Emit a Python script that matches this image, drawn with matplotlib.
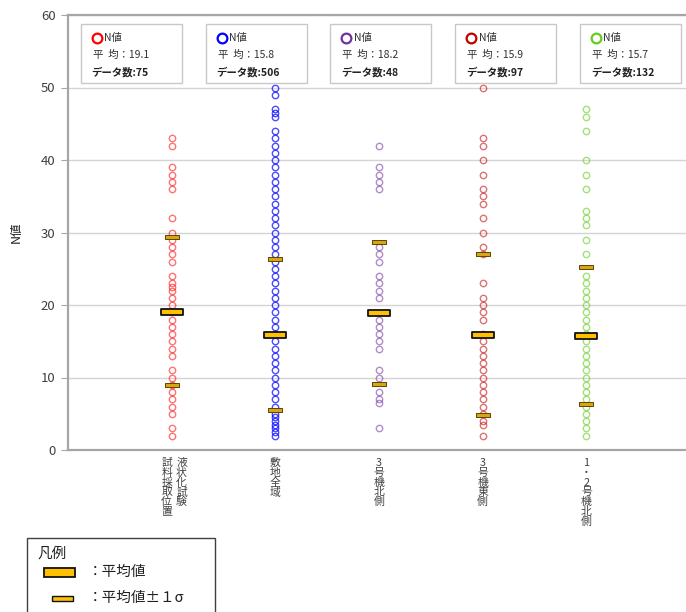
import matplotlib
matplotlib.use("Agg")
import matplotlib.pyplot as plt
from matplotlib.path import Path
from matplotlib.patches import Rectangle

plt.rcParams['font.family'] = ['Noto Sans CJK JP', 'DejaVu Sans']

# categories (vertical labels, first one has two columns)
cat_cols = [["液状化試験", "試料採取位置"], ["敷地全域"], ["3号機北側"], ["3号機東側"], ["1・2号機北側"]]
colors = ['#ff0000', '#0000ff', '#7030a0', '#c00000', '#66cc22']
alphas = [0.55, 0.7, 0.55, 0.55, 0.6]

# N values
n_red = [43, 42, 39, 38, 37, 36, 32, 30, 29, 28, 27, 26, 24, 23, 22.5, 22, 21, 20, 19, 18, 17, 16,
         15, 14, 13, 11, 10, 9, 8, 7, 6, 5, 3, 2]
n_blue = [50, 49, 47, 46.5, 46, 44, 43, 42, 41, 40, 39, 38, 37, 36, 35, 34, 33, 32, 31, 30, 29, 28,
          27, 26, 25, 24, 23, 22, 21, 20, 19, 18, 17, 16, 15, 14, 13, 12, 11, 10, 9, 8, 7, 6, 5,
          4.5, 4, 3.5, 3, 2.5, 2]
n_purple = [42, 39, 38, 37, 36, 28, 27, 26, 24, 23, 22, 21, 18, 17, 16, 15, 14, 11, 10, 8, 7, 6.5, 3]
n_dred = [50, 43, 42, 40, 38, 36, 35, 34, 32, 30, 28, 27, 23, 21, 20, 19, 18, 16, 15, 14, 13, 12,
          11, 10, 9, 8, 7, 6, 5, 4, 3.5, 2]
n_green = [47, 46, 44, 40, 38, 36, 33, 32, 31, 29, 27, 24, 23, 22, 21, 20, 19, 18, 17, 16, 15, 14,
           13, 12, 11, 10, 9, 8, 7, 6, 5, 4, 3, 2]
series = [n_red, n_blue, n_purple, n_dred, n_green]

# mean marker and mean +- 1 sigma markers (as drawn)
avg = [19.1, 15.8, 18.9, 15.9, 15.7]
sig_hi = [29.4, 26.3, 28.7, 27.1, 25.2]
sig_lo = [9.0, 5.5, 9.1, 4.8, 6.3]

# info box texts
avg_text = ['19.1', '15.8', '18.2', '15.9', '15.7']
count_text = ['75', '506', '48', '97', '132']


def rect_marker(ratio):
    h = 1.0 / ratio
    return Path([(-1, -h), (1, -h), (1, h), (-1, h), (-1, -h)],
                [Path.MOVETO, Path.LINETO, Path.LINETO, Path.LINETO, Path.CLOSEPOLY])


fig = plt.figure(figsize=(6.86, 6.12), dpi=100)
ax = fig.add_axes([68 / 686, 1 - 450 / 612, 618 / 686, 435 / 612])
ax.set_xlim(-1, 4.96)
ax.set_ylim(0, 60)

for s in ['left', 'bottom', 'top']:
    ax.spines[s].set_color('#a6a6a6')
    ax.spines[s].set_linewidth(1.6)
ax.spines['right'].set_visible(False)
ax.set_yticks(range(0, 61, 10))
ax.yaxis.grid(True, color='#d4d4d4', linewidth=1.0)
ax.set_axisbelow(True)
ax.tick_params(axis='y', length=5, color='#a6a6a6', labelsize=9.5, labelcolor='#404040', pad=4)
ax.set_xticks([])
ax.set_ylabel('N値', fontsize=9, color='#202020', labelpad=13)

# points
for i, vals in enumerate(series):
    ax.plot([i] * len(vals), vals, 'o', mfc='none', mec=colors[i], ms=4.6, mew=1.0,
            alpha=alphas[i], zorder=3)

mean_mk = rect_marker(3.6)
sig_mk = rect_marker(4.8)
xs = list(range(len(series)))
ax.plot(xs, sig_hi, ls='none', marker=sig_mk, ms=10.5, mfc='#d9a514', mec='#5a4600', mew=0.7, zorder=4)
ax.plot(xs, sig_lo, ls='none', marker=sig_mk, ms=10.5, mfc='#d9a514', mec='#5a4600', mew=0.7, zorder=4)
ax.plot(xs, avg, ls='none', marker=mean_mk, ms=16, mfc='#ffc000', mec='#111111', mew=1.3, zorder=5)

# category labels (stacked vertical)
for i, cols in enumerate(cat_cols):
    if len(cols) == 2:
        offs = [0.095, -0.048]
    else:
        offs = [0.0]
    for txt, off in zip(cols, offs):
        ax.text(i + off, -0.018, '\n'.join(txt), transform=ax.get_xaxis_transform(),
                ha='center', va='top', fontsize=7.8, color='#404040', linespacing=0.98)

# info boxes above each column
W, H = 618.0, 435.0
for i in range(len(series)):
    left = (80.7 - 68 + i * 124.8) / W
    ax.add_patch(Rectangle((left, 1 - 68 / H), 101 / W, 59 / H, transform=ax.transAxes,
                           facecolor='white', edgecolor='#c8c8c8', lw=1.0, zorder=6, clip_on=False))
    ax.plot([left + 16 / W], [1 - 22.5 / H], 'o', transform=ax.transAxes, mfc='none',
            mec=colors[i], ms=7, mew=1.6, zorder=7, clip_on=False)
    ax.text(left + 23.5 / W, 1 - 22.5 / H, 'N値', transform=ax.transAxes, fontsize=7.5,
            color='#303030', va='center', ha='left', zorder=7)
    ax.text(left + 12 / W, 1 - 40 / H, '平  均：' + avg_text[i], transform=ax.transAxes,
            fontsize=7.5, color='#303030', va='center', ha='left', zorder=7)
    ax.text(left + 11 / W, 1 - 57 / H, 'データ数:' + count_text[i], transform=ax.transAxes,
            fontsize=7.5, color='#202020', va='center', ha='left', fontweight='bold', zorder=7)

# legend box at the bottom
FW, FH = 686.0, 612.0
fig.add_artist(Rectangle((27 / FW, -0.01), 188 / FW, 1 - 538 / FH + 0.01, transform=fig.transFigure,
                         facecolor='white', edgecolor='#404040', lw=1.0))
fig.text(37 / FW, 1 - 554 / FH, '凡例', fontsize=10.5, va='center', ha='left', color='#202020')
fig.add_artist(Rectangle((44 / FW, 1 - 577 / FH), 31 / FW, 9 / FH, transform=fig.transFigure,
                         facecolor='#ffc000', edgecolor='#111111', lw=1.3))
fig.text(88 / FW, 1 - 572 / FH, '：平均値', fontsize=10.5, va='center', ha='left', color='#202020')
fig.add_artist(Rectangle((52 / FW, 1 - 601 / FH), 21 / FW, 5 / FH, transform=fig.transFigure,
                         facecolor='#ffc000', edgecolor='#111111', lw=1.0))
fig.text(88 / FW, 1 - 598 / FH, '：平均値±１σ', fontsize=10.5, va='center', ha='left', color='#202020')

fig.savefig('out.png', dpi=100)
